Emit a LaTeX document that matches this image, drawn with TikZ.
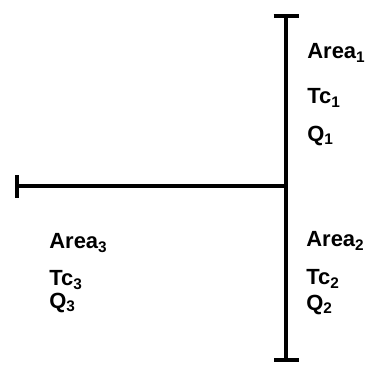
\documentclass[tikz,border=0pt]{standalone}
\usepackage{fontspec}
\setmainfont{Liberation Sans}
\usetikzlibrary{arrows.meta}

\begin{document}
\begin{tikzpicture}[
    x=0.02cm, y=-0.02cm,
    member/.style={line width=2.3pt, {Bar[width=0.5cm,line width=2.3pt]}-{Bar[width=0.5cm,line width=2.3pt]}},
    stub/.style={line width=2.3pt, {Bar[width=0.46cm,line width=2.3pt]}-},
    lbl/.style={anchor=west, inner sep=0pt, font=\bfseries\fontsize{12.5}{14}\selectfont}
]
    \useasboundingbox (0,0) rectangle (391,376);

    % Member ends
    \coordinate (top) at (286,14);
    \coordinate (bot) at (286,362);
    \coordinate (left) at (15,186);
    \coordinate (joint) at (286,186);

    % Members
    \draw[member] (top) -- (bot);
    \draw[stub] (left) -- (joint);

    % Area 1
    \node[lbl] (area1) at (307,53) {Area\textsubscript{1}};
    \node[lbl] (tc1) at (307,98) {Tc\textsubscript{1}};
    \node[lbl] (q1) at (307,136) {Q\textsubscript{1}};

    % Area 3
    \node[lbl] (area3) at (49,243) {Area\textsubscript{3}};
    \node[lbl] (tc3) at (49,280) {Tc\textsubscript{3}};
    \node[lbl] (q3) at (49,303) {Q\textsubscript{3}};

    % Area 2
    \node[lbl] (area2) at (306,241) {Area\textsubscript{2}};
    \node[lbl] (tc2) at (306,279) {Tc\textsubscript{2}};
    \node[lbl] (q2) at (306,305) {Q\textsubscript{2}};

\end{tikzpicture}
\end{document}
